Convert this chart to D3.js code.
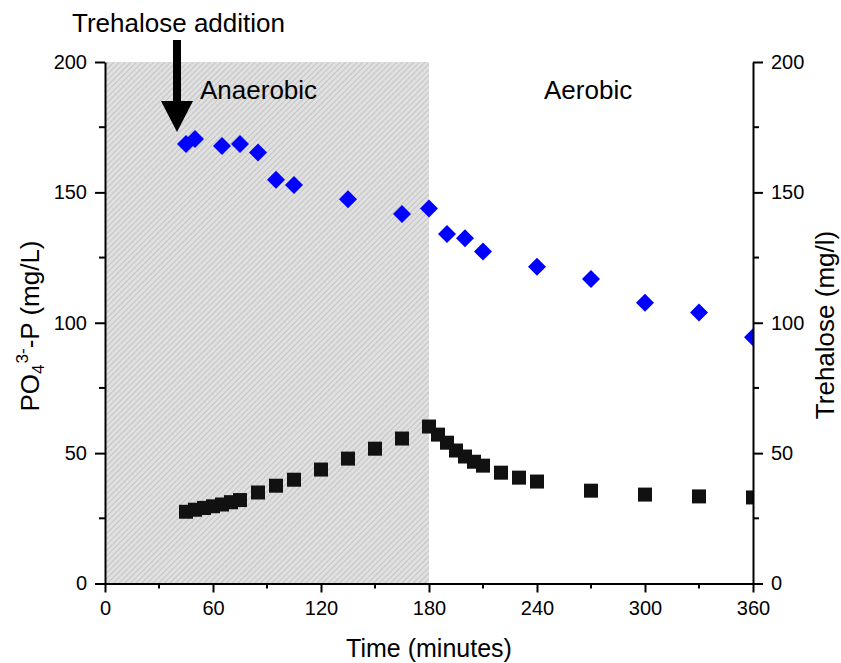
<!DOCTYPE html>
<html>
<head>
<meta charset="utf-8">
<script src="https://cdn.jsdelivr.net/npm/d3@7"></script>
<style>
  html, body { margin: 0; padding: 0; background: #fff; }
  svg { display: block; font-family: "Liberation Sans", Arial, sans-serif; }
</style>
</head>
<body>
<svg id="chart" width="841" height="663"></svg>
<script>
// ---- data ----
const timePO4 = [45, 50, 55, 60, 65, 70, 75, 85, 95, 105, 120, 135, 150, 165, 180,
                 185, 190, 195, 200, 205, 210, 220, 230, 240, 270, 300, 330, 360];
const po4 = [27.5, 28.3, 29.0, 29.6, 30.3, 31.2, 32.0, 34.9, 37.5, 39.8, 43.7, 47.9, 51.7, 55.6, 60.2,
             57.1, 54.0, 51.0, 48.7, 46.7, 45.2, 42.5, 40.6, 39.1, 35.6, 34.1, 33.4, 33.0];
const timeTre = [45, 50, 65, 75, 85, 95, 105, 135, 165, 180, 190, 200, 210, 240, 270, 300, 330, 360];
const trehalose = [168.6, 170.5, 167.8, 168.6, 165.3, 154.8, 152.8, 147.4, 141.7, 143.8,
                   134.0, 132.4, 127.3, 121.5, 116.8, 107.7, 103.9, 94.4];
const xTicks = [0, 60, 120, 180, 240, 300, 360];
const xMinor = [30, 90, 150, 210, 270, 330];
const yTicks = [0, 50, 100, 150, 200];
const yMinor = [25, 75, 125, 175];
const anaerobicEnd = 180;
const additionTime = 40;

// ---- layout ----
const svg = d3.select("#chart");
const L = 105, R = 753, T = 62, B = 583.5;
const x = d3.scaleLinear().domain([0, 360]).range([L, R]);
const yL = d3.scaleLinear().domain([0, 200]).range([B, T]);
const yR = d3.scaleLinear().domain([0, 200]).range([B, T]);

const defs = svg.append("defs");
const pat = defs.append("pattern")
  .attr("id", "hatch").attr("patternUnits", "userSpaceOnUse")
  .attr("width", 4).attr("height", 4)
  .attr("patternTransform", "rotate(45)");
pat.append("rect").attr("width", 4).attr("height", 4).attr("fill", "#e0e0e0");
pat.append("line").attr("x1", 0).attr("y1", 0).attr("x2", 0).attr("y2", 4)
  .attr("stroke", "#b5b5b5").attr("stroke-width", 1.3);
defs.append("clipPath").attr("id", "plotclip")
  .append("rect").attr("x", L).attr("y", T).attr("width", R - L).attr("height", B - T);

// shaded anaerobic region
svg.append("rect")
  .attr("x", x(0)).attr("y", yL(200))
  .attr("width", x(anaerobicEnd) - x(0)).attr("height", yL(0) - yL(200))
  .attr("fill", "url(#hatch)");

// markers
const plot = svg.append("g").attr("clip-path", "url(#plotclip)");
const sq = d3.symbol().type(d3.symbolSquare).size(196);
const dm = d3.symbol().type(d3.symbolSquare).size(162);

plot.selectAll(".tre").data(timeTre.map((t, i) => [t, trehalose[i]]))
  .join("path").attr("class", "tre")
  .attr("d", dm)
  .attr("transform", d => `translate(${x(d[0])},${yR(d[1])}) rotate(45)`)
  .attr("fill", "#0000ff");

plot.selectAll(".po4").data(timePO4.map((t, i) => [t, po4[i]]))
  .join("path").attr("class", "po4")
  .attr("d", sq)
  .attr("transform", d => `translate(${x(d[0])},${yL(d[1])})`)
  .attr("fill", "#111");

// axes
function styleAxis(g) {
  g.selectAll("path.domain").attr("stroke", "#000").attr("stroke-width", 2);
  g.selectAll(".tick line").attr("stroke", "#000").attr("stroke-width", 2);
  g.selectAll("text").attr("font-size", 20).attr("fill", "#000")
    .attr("font-family", '"Liberation Sans", Arial, sans-serif');
}

const gx = svg.append("g").attr("transform", `translate(0,${B})`)
  .call(d3.axisBottom(x).tickValues(xTicks).tickSize(9).tickSizeOuter(0).tickPadding(8).tickFormat(d3.format("d")));
styleAxis(gx);
gx.selectAll(".minor").data(xMinor).join("line").attr("class", "minor")
  .attr("x1", d => x(d)).attr("x2", d => x(d)).attr("y1", 0).attr("y2", 5)
  .attr("stroke", "#000").attr("stroke-width", 2);

const gyl = svg.append("g").attr("transform", `translate(${L},0)`)
  .call(d3.axisLeft(yL).tickValues(yTicks).tickSize(10).tickSizeOuter(0).tickPadding(8));
styleAxis(gyl);
gyl.selectAll(".minor").data(yMinor).join("line").attr("class", "minor")
  .attr("y1", d => yL(d)).attr("y2", d => yL(d)).attr("x1", 0).attr("x2", -6)
  .attr("stroke", "#000").attr("stroke-width", 2);

const gyr = svg.append("g").attr("transform", `translate(${R},0)`)
  .call(d3.axisRight(yR).tickValues(yTicks).tickSize(10).tickSizeOuter(0).tickPadding(8));
styleAxis(gyr);
gyr.selectAll(".minor").data(yMinor).join("line").attr("class", "minor")
  .attr("y1", d => yR(d)).attr("y2", d => yR(d)).attr("x1", 0).attr("x2", 6)
  .attr("stroke", "#000").attr("stroke-width", 2);

// axis titles
svg.append("text").attr("x", (L + R) / 2).attr("y", 657)
  .attr("text-anchor", "middle").attr("font-size", 25).text("Time (minutes)");

const lt = svg.append("text")
  .attr("transform", `translate(39,326) rotate(-90)`)
  .attr("text-anchor", "middle").attr("font-size", 26);
lt.append("tspan").text("PO");
lt.append("tspan").attr("font-size", 17).attr("dy", 5).text("4");
lt.append("tspan").attr("font-size", 17).attr("dx", 1).attr("dy", -16).text("3-");
lt.append("tspan").attr("dy", 11).text("-P (mg/L)");

svg.append("text")
  .attr("transform", `translate(834,325) rotate(-90)`)
  .attr("text-anchor", "middle").attr("font-size", 26).text("Trehalose (mg/l)");

// region labels
svg.append("text").attr("x", 200).attr("y", 99).attr("font-size", 26).text("Anaerobic");
svg.append("text").attr("x", 544).attr("y", 99).attr("font-size", 26).text("Aerobic");

// trehalose addition annotation
svg.append("text").attr("x", 72).attr("y", 32).attr("font-size", 26).text("Trehalose addition");
const ax = x(additionTime);
svg.append("path")
  .attr("d", `M${ax - 4},40 L${ax + 4},40 L${ax + 4},101 L${ax + 16},101 L${ax},132 L${ax - 16},101 L${ax - 4},101 Z`)
  .attr("fill", "#000");
</script>
</body>
</html>
